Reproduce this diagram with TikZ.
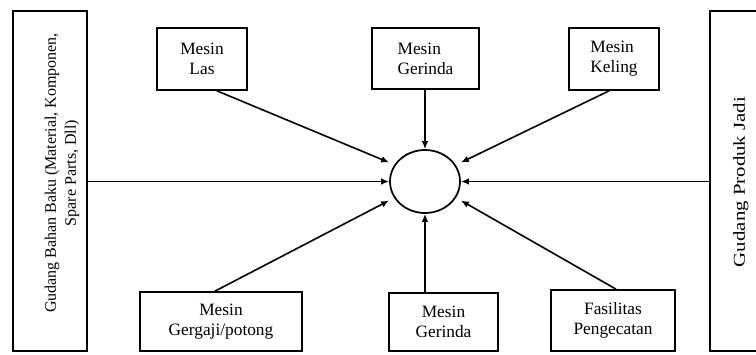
\documentclass[tikz,border=0pt]{standalone}
\usepackage{fontspec}
\setmainfont{Liberation Serif}
\usetikzlibrary{shapes.geometric,arrows.meta}
\tikzset{
  mesin/.style = {draw, line width=1.3pt, align=center, inner sep=0pt,
    font=\fontsize{13}{15}\selectfont},
  gudang/.style = {draw, line width=1.3pt, inner sep=0pt},
  flow/.style = {->, line width=1.2pt}
}
\tikzset{>={Latex[length=6pt,width=5pt]}}

\begin{document}
\begin{tikzpicture}[x=0.75pt,y=-0.75pt]
  \useasboundingbox (0,0) rectangle (756,354);
  \pgfmathsetmacro{\sep}{14.25}
  % warehouses
  \node[gudang, minimum width=55.5pt, minimum height=255pt] (bahan) at (50,181) {};
  \node[gudang, minimum width=60pt, minimum height=255pt] (produk) at (750,181) {};
  \node[rotate=90, align=center, font=\fontsize{12}{15}\selectfont] (bahanTeks) at (62,173)
    {Gudang Bahan Baku (Material, Komponen,\\ Spare Parts, Dll)};
  \node[rotate=90, font=\fontsize{12.5}{15}\selectfont] (produkTeks) at (741,182)
    {\scalebox{1.25}[1]{Gudang Produk Jadi}};
  % work station
  \node[draw, line width=1.3pt, ellipse, inner sep=0pt, minimum width=52.5pt, minimum height=47.25pt] (hub) at (425,181.5) {};
  % machines
  \node[mesin, minimum width=67.5pt, minimum height=46.5pt] (las) at (202,59) {Mesin\\Las};
  \node[mesin, align=left, minimum width=80.25pt, minimum height=45.75pt] (gerindaAtas) at (425.5,58.5) {Mesin\\Gerinda};
  \node[mesin, align=left, minimum width=67.5pt, minimum height=46.5pt] (keling) at (614,59) {Mesin\\Keling};
  \node[mesin, minimum width=121.5pt, minimum height=44.25pt] (gergaji) at (221,321.5) {Mesin\\Gergaji/potong};
  \node[mesin, minimum width=81.75pt, minimum height=43.5pt] (gerindaBawah) at (443.5,322) {Mesin\\Gerinda};
  \node[mesin, minimum width=93pt, minimum height=45.75pt] (fasilitas) at (613,320.5) {Fasilitas\\Pengecatan};
  % arrow tips round the station
  \coordinate (hubWA) at ([yshift=\sep pt]hub.west);
  \coordinate (hubWB) at ([yshift=-\sep pt]hub.west);
  \coordinate (hubEA) at ([yshift=\sep pt]hub.east);
  \coordinate (hubEB) at ([yshift=-\sep pt]hub.east);
  % flows
  \draw[flow] ([xshift=11.25pt]las.south) -- (hubWA);
  \draw[flow] (bahan.east |- hub) -- (hub.west);
  \draw[flow] ([xshift=-4.5pt]gergaji.north) -- (hubWB);
  \draw[flow] (gerindaAtas.south -| hub) -- (hub.north);
  \draw[flow] (gerindaBawah.north -| hub) -- (hub.south);
  \draw[flow] ([xshift=-3.75pt]keling.south) -- (hubEA);
  \draw[flow] (produk.west |- hub) -- (hub.east);
  \draw[flow] ([xshift=2.25pt]fasilitas.north) -- (hubEB);
\end{tikzpicture}
\end{document}
